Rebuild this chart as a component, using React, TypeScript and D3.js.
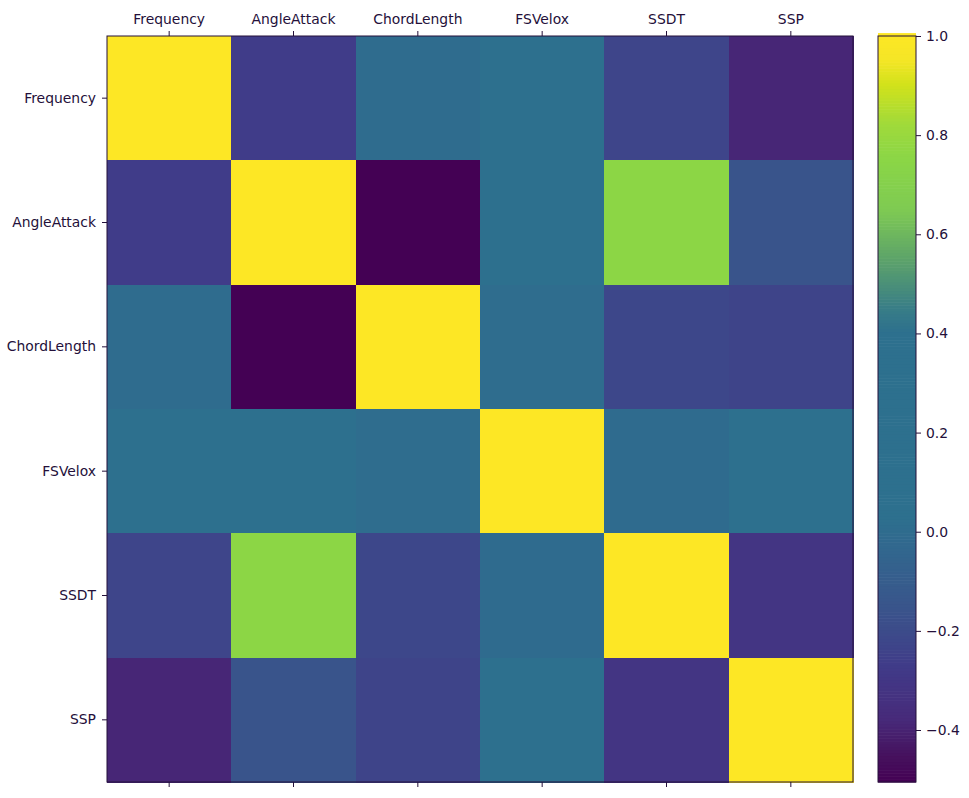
import React, { useEffect, useRef } from 'react';
import * as d3 from 'd3';

// variable names (rows and columns)
const variables = ['Frequency', 'AngleAttack', 'ChordLength', 'FSVelox', 'SSDT', 'SSP'];

// correlation matrix, one row per variable
const rowFrequency = [1, -0.272765, -0.003661, 0.133664, -0.230107, -0.390711];
const rowAngleAttack = [-0.272765, 1, -0.504868, 0.05876, 0.753394, -0.156108];
const rowChordLength = [-0.003661, -0.504868, 1, 0.003787, -0.220842, -0.236162];
const rowFSVelox = [0.133664, 0.05876, 0.003787, 1, -0.003974, 0.125103];
const rowSSDT = [-0.230107, 0.753394, -0.220842, -0.003974, 1, -0.31267];
const rowSSP = [-0.390711, -0.156108, -0.236162, 0.125103, -0.31267, 1];
const matrix = [rowFrequency, rowAngleAttack, rowChordLength, rowFSVelox, rowSSDT, rowSSP];

const colorbarTicks = [-0.4, -0.2, 0.0, 0.2, 0.4, 0.6, 0.8, 1.0];

// the reference uses a reduced (posterized) viridis palette; approximate its look
const paletteStops = [-0.505, -0.45, -0.38, -0.27, -0.2, -0.12, -0.03, 0.03, 0.4, 0.45, 0.55, 0.65, 0.75, 0.82, 0.9, 0.95, 1.0];
const paletteColors = ['#440154', '#46135f', '#472a7a', '#403c89', '#3c4c8a', '#375a8c', '#31688e', '#2d708e', '#2d708e',
    '#397e86', '#5ea469', '#7fcb52', '#8bd646', '#a0da3a', '#d2e21b', '#f5e626', '#fde725'];

const App = () => {
    const ref = useRef<SVGSVGElement>(null);

    useEffect(() => {
        if (!ref.current) return;
        const svg = d3.select(ref.current);
        svg.selectAll('*').remove();

        const textColor = '#24103a';
        const font = 'DejaVu Sans, sans-serif';
        const left = 107, top = 36, right = 853, bottom = 782;

        const vmin = d3.min(matrix.flat()) as number;
        const vmax = d3.max(matrix.flat()) as number;
        const color = d3.scaleLinear<string>().domain(paletteStops).range(paletteColors).clamp(true);

        const x = d3.scaleBand<string>().domain(variables).range([left, right]);
        const y = d3.scaleBand<string>().domain(variables).range([top, bottom]);

        // cells
        const cells = matrix.flatMap((row, i) => row.map((v, j) => ({ r: variables[i], c: variables[j], v })));
        svg.append('g')
            .selectAll('rect')
            .data(cells)
            .enter()
            .append('rect')
            .attr('x', d => x(d.c) as number)
            .attr('y', d => y(d.r) as number)
            .attr('width', x.bandwidth() + 0.5)
            .attr('height', y.bandwidth() + 0.5)
            .attr('fill', d => color(d.v))
            .attr('shape-rendering', 'crispEdges');

        // axes
        const axisTop = svg.append('g')
            .attr('transform', `translate(0,${top})`)
            .call(d3.axisTop(x).tickSize(5).tickPadding(7));
        const axisBottom = svg.append('g')
            .attr('transform', `translate(0,${bottom})`)
            .call(d3.axisBottom(x).tickSize(5).tickFormat(() => ''));
        const axisLeft = svg.append('g')
            .attr('transform', `translate(${left},0)`)
            .call(d3.axisLeft(y).tickSize(5).tickPadding(6));
        [axisTop, axisBottom, axisLeft].forEach(g => {
            g.select('.domain').remove();
            g.selectAll('line').attr('stroke', textColor);
            g.selectAll('text').attr('fill', textColor).attr('font-family', font).attr('font-size', 13.9);
        });

        svg.append('rect')
            .attr('x', left).attr('y', top)
            .attr('width', right - left).attr('height', bottom - top)
            .attr('fill', 'none').attr('stroke', textColor).attr('stroke-width', 1);

        // colorbar
        const cbLeft = 878, cbRight = 916;
        const cy = d3.scaleLinear().domain([vmin, vmax]).range([bottom, top]);
        const steps = d3.range(0, 256).map(i => vmin + (vmax - vmin) * i / 255);
        const stepH = (bottom - top) / 256;
        svg.append('g')
            .selectAll('rect')
            .data(steps)
            .enter()
            .append('rect')
            .attr('x', cbLeft)
            .attr('y', d => cy(d) - stepH)
            .attr('width', cbRight - cbLeft)
            .attr('height', stepH + 0.6)
            .attr('fill', d => color(d));

        const cbAxis = svg.append('g')
            .attr('transform', `translate(${cbRight},0)`)
            .call(d3.axisRight(cy).tickValues(colorbarTicks).tickSize(5).tickPadding(5)
                .tickFormat(d => d3.format('.1f')(d as number).replace('-', '\u2212')));
        cbAxis.select('.domain').remove();
        cbAxis.selectAll('line').attr('stroke', textColor);
        cbAxis.selectAll('text').attr('fill', textColor).attr('font-family', font).attr('font-size', 13.9);

        svg.append('rect')
            .attr('x', cbLeft).attr('y', top)
            .attr('width', cbRight - cbLeft).attr('height', bottom - top)
            .attr('fill', 'none').attr('stroke', textColor).attr('stroke-width', 1);
    }, []);

    return (
        <svg ref={ref} width={969} height={798} style={{ position: 'absolute', left: 0, top: 0 }}></svg>
    );
};

export default App;
